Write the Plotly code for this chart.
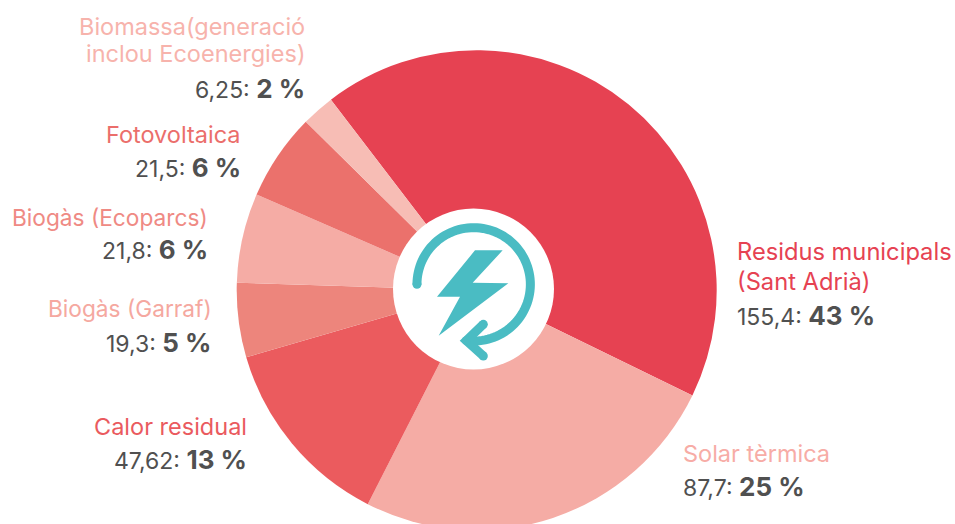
import numpy as np
import plotly.graph_objects as go

W, H = 955, 560
categories = ["Residus municipals", "Solar tèrmica", "Calor residual", "Biogàs (Garraf)",
              "Biogàs (Ecoparcs)", "Fotovoltaica", "Biomassa"]
label_lines = [["Residus municipals", "(Sant Adrià)"], ["Solar tèrmica"], ["Calor residual"], ["Biogàs (Garraf)"],
               ["Biogàs (Ecoparcs)"], ["Fotovoltaica"], ["Biomassa(generació", "inclou Ecoenergies)"]]
# slice sizes as measured on the picture (degrees of arc)
slice_sizes = [153.4, 91.0, 46.8, 18.0, 21.7, 21.1, 8.0]
value_labels = ["155,4", "87,7", "47,62", "19,3", "21,8", "21,5", "6,25"]
percents = [43, 25, 13, 5, 6, 6, 2]
slice_colors = ["#E64252", "#F5ACA5", "#EB5B5E", "#ED857C", "#F5ACA5", "#EB716C", "#F7BDB5"]
text_colors = ["#E64252", "#F7ACA6", "#EA5A5E", "#F5A8A0", "#EF8A84", "#EB6E6B", "#F7B3AC"]
text_x = [735, 681, 249, 214, 210, 243, 307]
text_side = ["left", "left", "right", "right", "right", "right", "right"]
text_y = [[252, 281, 315], [453, 486], [426, 459], [308, 342], [218, 250], [134, 167], [26, 54, 88]]
label_sizes = [23.7, 23.5, 23.5, 22.7, 22.7, 23.5, 23.5]

FONT = "Inter, sans-serif"
def px(x): return x / W
def py(y): return 1 - y / H

cx, cy, r = 476.7, 290.3, 240
fig = go.Figure(go.Pie(
    labels=categories, values=slice_sizes, sort=False, direction="clockwise", rotation=-37.4,
    marker=dict(colors=slice_colors, line=dict(width=0)),
    textinfo="none", hoverinfo="label", showlegend=False,
    domain=dict(x=[px(cx - r), px(cx + r)], y=[py(cy + r), py(cy - r)]),
))

annotations = []
for i, lines in enumerate(label_lines):
    ys = text_y[i]
    for line, y in zip(lines, ys):
        annotations.append(dict(x=px(text_x[i]), y=py(y), xref="paper", yref="paper", text=line,
                                showarrow=False, xanchor=text_side[i], yanchor="middle",
                                font=dict(family=FONT, size=label_sizes[i], color=text_colors[i])))
    annotations.append(dict(x=px(text_x[i]), y=py(ys[-1]), xref="paper", yref="paper",
                            text=f'<span style="font-size:23px">{value_labels[i]}: </span><b>{percents[i]} %</b>',
                            showarrow=False, xanchor=text_side[i], yanchor="middle",
                            font=dict(family=FONT, size=26, color="#505050")))

def z(xz, yz):
    return 380 + xz / 3, 190 + yz / 3
def path(points, close=False):
    s = "M" + " L".join(f"{px(a):.5f},{py(b):.5f}" for a, b in points)
    return s + (" Z" if close else "")
def disc(a, b, rad, color):
    return dict(type="circle", xref="paper", yref="paper", x0=px(a - rad), x1=px(a + rad),
                y0=py(b + rad), y1=py(b - rad), fillcolor=color, line_width=0, layer="above")

TEAL = "#4ABCC3"
LW = 9
shapes = [disc(473.5, 289, 80.5, "white")]
bolt = [z(285, 181), z(368, 181), z(278, 278), z(385, 280), z(176, 437), z(240, 320), z(171, 320)]
shapes.append(dict(type="path", xref="paper", yref="paper", path=path(bolt, True),
                   fillcolor=TEAL, line_width=0, layer="above"))
acx, acy = z(281, 283)
ang = np.radians(np.linspace(180, 457, 90))
arc = [(acx + 56.7 * np.cos(a), acy + 56.7 * np.sin(a)) for a in ang]
tip = z(259, 452)
head_a, head_b = z(310, 403), z(310, 498)
shapes.append(dict(type="path", xref="paper", yref="paper", path=path(arc + [tip]),
                   line=dict(color=TEAL, width=LW), layer="above"))
shapes.append(dict(type="path", xref="paper", yref="paper", path=path([head_a, tip, head_b]),
                   line=dict(color=TEAL, width=LW), layer="above"))
for p in [arc[0], head_a, head_b, tip]:
    shapes.append(disc(p[0], p[1], LW / 2, TEAL))

fig.update_layout(width=W, height=H, margin=dict(l=0, r=0, t=0, b=0), paper_bgcolor="white",
                  font=dict(family=FONT), annotations=annotations, shapes=shapes)
fig.write_html("out.html", config=dict(displayModeBar=False),
               post_script="document.body.style.margin='0';document.documentElement.style.overflow='hidden';document.body.style.overflow='hidden';")
